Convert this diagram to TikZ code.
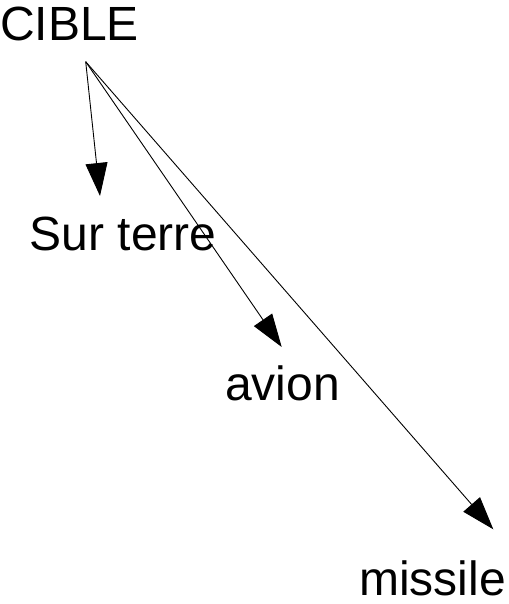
\documentclass[tikz,border=0pt]{standalone}
\usepackage{fontspec}
\setmainfont{Liberation Sans}
\usetikzlibrary{arrows.meta,positioning}
\tikzset{
  etiquette/.style={anchor=base west,inner sep=0pt,text depth=0pt,font=\fontsize{48}{58}\selectfont},
  fleche/.style={-{Triangle[length=33pt,width=22pt]},line width=0.9pt,black},
}

\begin{document}
\begin{tikzpicture}[x=1pt,y=-1pt]
  \useasboundingbox (0,0) rectangle (508,604);
  \node[etiquette] (cible) at (0,40.7) {CIBLE};
  \node[etiquette] (terre) at (29.5,250) {Sur terre};
  \node[etiquette] (avion) at (225,400) {avion};
  \node[etiquette] (missile) at (359,595.5) {missile};
  \coordinate (depart) at (85.7,61.7);
  \coordinate (versterre) at (100,196);
  \coordinate (versavion) at (281.7,347);
  \coordinate (versmissile) at (493.3,529.3);
  \draw[fleche] (depart) -- (versterre);
  \draw[fleche] (depart) -- (versavion);
  \draw[fleche] (depart) -- (versmissile);
\end{tikzpicture}
\end{document}
